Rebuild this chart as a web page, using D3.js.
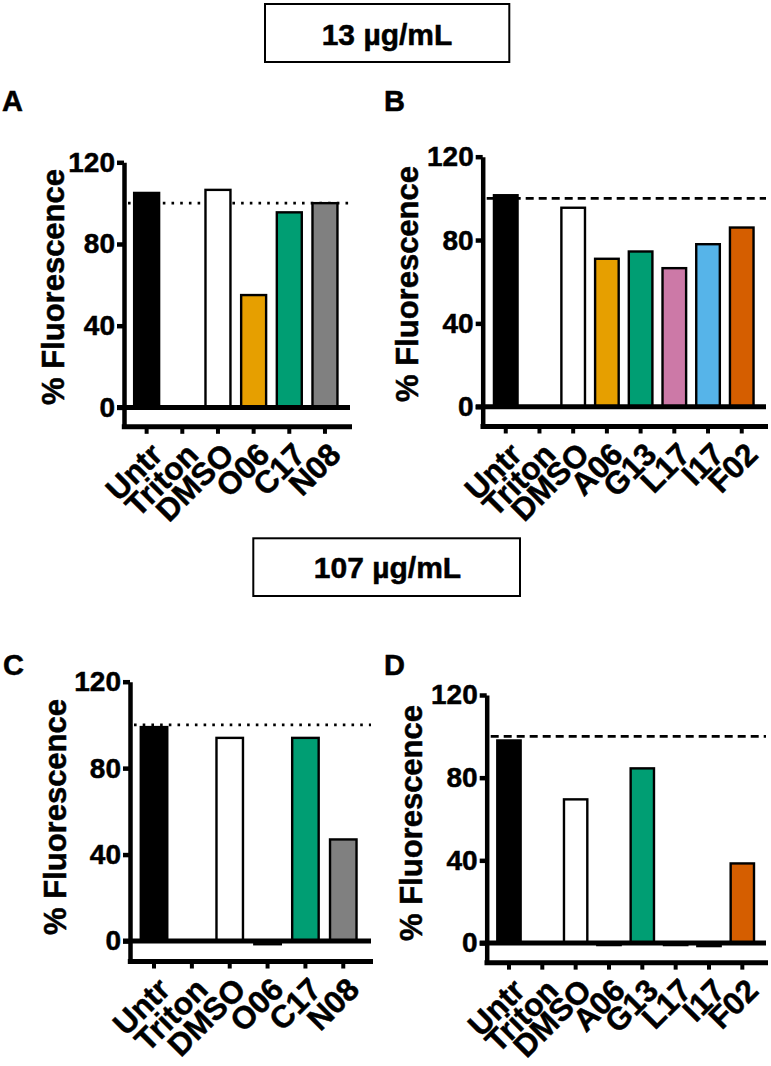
<!DOCTYPE html>
<html>
<head>
<meta charset="utf-8">
<script src="https://cdn.jsdelivr.net/npm/d3@7"></script>
<style>
  html, body { margin: 0; padding: 0; background: #fff; }
  svg { display: block; }
  text { font-family: "Liberation Sans", Arial, Helvetica, sans-serif; font-weight: bold; fill: #000; stroke: #000; stroke-width: 0.5px; }
</style>
</head>
<body>
<script>
// ---------- DATA ----------
const titles = ["13 µg/mL", "107 µg/mL"];
const panelLetters = ["A", "B", "C", "D"];
const yLabel = "% Fluorescence";
const yTicks = [0, 40, 80, 120];
const refValue = 100;

const catsA = ["Untr", "Triton", "DMSO", "O06", "C17", "N08"];
const valsA = [105, 0, 106.5, 55, 95.5, 100];

const catsB = ["Untr", "Triton", "DMSO", "A06", "G13", "L17", "I17", "F02"];
const valsB = [101.5, 0, 95.5, 71, 74.5, 66.5, 78, 86];

const catsC = ["Untr", "Triton", "DMSO", "O06", "C17", "N08"];
const valsC = [99, 0, 94, -1.5, 94, 47];

const catsD = ["Untr", "Triton", "DMSO", "A06", "G13", "L17", "I17", "F02"];
const valsD = [98, 0, 69.5, -1, 84.5, -1, -1.5, 38.5];

const colorsSix = ["#000000", "#ffffff", "#ffffff", "#E69F00", "#009E73", "#808080"];
const colorsEight = ["#000000", "#ffffff", "#ffffff", "#E69F00", "#009E73", "#CC79A7", "#56B4E9", "#D55E00"];

// ---------- LAYOUT ----------
const W = 771, H = 1066;
const svg = d3.select("body").append("svg").attr("width", W).attr("height", H);

const panels = [
  { letter: panelLetters[0], cats: catsA, vals: valsA, colors: colorsSix, dash: "2.6,6.1",
    axisX: 124, y0: 407.4, y120: 162.3, xr: [128.8, 342.8], right: 350, lx: 2, ly: 111, labX: 64, labY: 287 },
  { letter: panelLetters[1], cats: catsB, vals: valsB, colors: colorsEight, dash: "8,5",
    axisX: 482.7, y0: 406.7, y120: 156.7, xr: [488.9, 758.6], right: 766, lx: 384, ly: 111, labX: 418, labY: 284 },
  { letter: panelLetters[2], cats: catsC, vals: valsC, colors: colorsSix, dash: "2.6,6.1",
    axisX: 130, y0: 941, y120: 681.7, xr: [135.1, 362.2], right: 371, lx: 3, ly: 675, labX: 65.7, labY: 817 },
  { letter: panelLetters[3], cats: catsD, vals: valsD, colors: colorsEight, dash: "8,5",
    axisX: 486.7, y0: 943, y120: 695, xr: [492.3, 759], right: 766, lx: 384, ly: 675, labX: 422, labY: 823 }
];

// Title boxes
const boxes = [
  { x: 265, y: 4, w: 244.3, h: 58, tx: 387, ty: 45 },
  { x: 253.3, y: 538.3, w: 266.7, h: 57.7, tx: 387.5, ty: 578.3 }
];
boxes.forEach((b, i) => {
  svg.append("rect").attr("x", b.x).attr("y", b.y).attr("width", b.w).attr("height", b.h)
    .attr("fill", "#fff").attr("stroke", "#000").attr("stroke-width", 2);
  svg.append("text").attr("x", b.tx).attr("y", b.ty).attr("text-anchor", "middle")
    .attr("font-size", 30).text(titles[i]);
});

const yMin = -9.5;

panels.forEach(p => {
  const g = svg.append("g");
  const pxPerUnit = (p.y0 - p.y120) / 120;
  const y = d3.scaleLinear().domain([yMin, 120]).range([p.y0 - yMin * pxPerUnit, p.y120]);
  const x = d3.scaleBand().domain(p.cats).range(p.xr).paddingInner(0.3).paddingOuter(0.15);
  const yBottom = y(yMin);

  // panel letter
  g.append("text").attr("x", p.lx).attr("y", p.ly).attr("font-size", 29).text(p.letter);

  // y label
  g.append("text").attr("transform", `translate(${p.labX},${p.labY}) rotate(-90)`)
    .attr("text-anchor", "middle").attr("font-size", 31).text(yLabel);

  // reference line
  g.append("line").attr("x1", p.axisX + 4).attr("x2", p.right)
    .attr("y1", y(refValue)).attr("y2", y(refValue))
    .attr("stroke", "#000").attr("stroke-width", 2.6).attr("stroke-dasharray", p.dash);

  // bars
  g.selectAll("rect.bar").data(p.cats.map((c, i) => ({ c, v: p.vals[i], col: p.colors[i] })))
    .join("rect").attr("class", "bar")
    .attr("x", d => x(d.c))
    .attr("width", x.bandwidth())
    .attr("y", d => Math.min(y(d.v), y(0)))
    .attr("height", d => Math.abs(y(d.v) - y(0)))
    .attr("fill", d => d.col)
    .attr("stroke", "#000").attr("stroke-width", 2.4);

  // y axis
  const ya = g.append("g").attr("transform", `translate(${p.axisX},0)`)
    .call(d3.axisLeft(y).tickValues(yTicks).tickSize(7).tickSizeOuter(0).tickPadding(2).tickFormat(d3.format("d")));
  ya.select(".domain").attr("stroke", "#000").attr("stroke-width", 4.5);
  ya.selectAll(".tick line").attr("stroke", "#000").attr("stroke-width", 4.5);
  ya.selectAll(".tick text").attr("font-size", 28).attr("font-family", null).attr("fill", "#000");

  // zero line
  g.append("line").attr("x1", p.axisX - 7).attr("x2", p.right)
    .attr("y1", y(0)).attr("y2", y(0)).attr("stroke", "#000").attr("stroke-width", 5);

  // bottom axis
  const xa = g.append("g").attr("transform", `translate(0,${yBottom})`)
    .call(d3.axisBottom(x).tickSize(7).tickSizeOuter(0).tickFormat(""));
  xa.select(".domain").remove();
  xa.selectAll(".tick line").attr("stroke", "#000").attr("stroke-width", 4);
  g.append("line").attr("x1", p.axisX - 2.2).attr("x2", p.right + 2)
    .attr("y1", yBottom).attr("y2", yBottom).attr("stroke", "#000").attr("stroke-width", 5);

  // category labels
  g.selectAll("text.cat").data(p.cats).join("text").attr("class", "cat")
    .attr("transform", d => `translate(${x(d) + x.bandwidth() / 2 + 10},${yBottom + 22}) rotate(-45)`)
    .attr("text-anchor", "end").attr("dy", "0.35em").attr("font-size", 31.5).text(d => d);
});
</script>
</body>
</html>
